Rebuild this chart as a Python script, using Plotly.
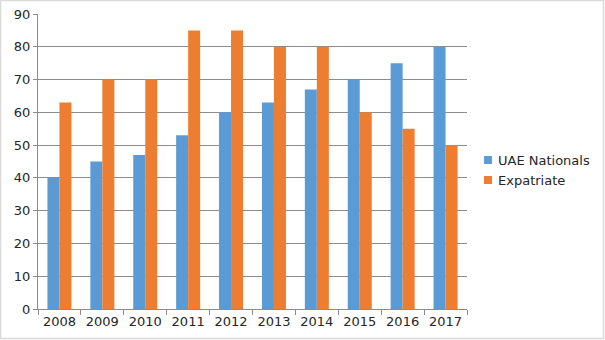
import plotly.graph_objects as go

years = ["2008", "2009", "2010", "2011", "2012", "2013", "2014", "2015", "2016", "2017"]
uae_nationals = [40, 45, 47, 53, 60, 63, 67, 70, 75, 80]
expatriate = [63, 70, 70, 85, 85, 80, 80, 60, 55, 50]
series = [("UAE Nationals", uae_nationals, "#5b9bd5"), ("Expatriate", expatriate, "#ed7d31")]

fig = go.Figure()
for name, vals, col in series:
    fig.add_trace(go.Bar(x=years, y=vals, name=name, marker=dict(color=col, line=dict(width=0))))

W, H = 605, 340
l, r, t, b = 38, 138, 14, 31
pw, ph = W - l - r, H - t - b

def px_x(x):
    return (x - l) / pw

def px_y(y):
    return (H - b - y) / ph

fig.update_layout(
    width=W, height=H,
    margin=dict(l=l, r=r, t=t, b=b, pad=0, autoexpand=False),
    paper_bgcolor="white", plot_bgcolor="white",
    barmode="group", bargap=0.44, bargroupgap=0,
    font=dict(family="DejaVu Sans", size=13, color="#262626"),
    showlegend=False,
    xaxis=dict(type="category", showgrid=False, showline=True, linecolor="#8c8c8c", linewidth=1,
               ticks="outside", tickson="boundaries", ticklen=5, tickcolor="#8c8c8c",
               tickfont=dict(size=13), range=[-0.5, 9.5]),
    yaxis=dict(range=[0, 90], dtick=10, showgrid=True, gridcolor="#8c8c8c", gridwidth=1,
               showline=True, linecolor="#8c8c8c", linewidth=1, ticks="outside", ticklen=4,
               tickcolor="#8c8c8c", tickfont=dict(size=13), zeroline=False, fixedrange=True),
)

# custom legend
for i, (name, vals, col) in enumerate(series):
    cy = 160 + 20 * i
    fig.add_shape(type="rect", xref="paper", yref="paper",
                  x0=px_x(484), x1=px_x(492), y0=px_y(cy + 4), y1=px_y(cy - 4),
                  fillcolor=col, line=dict(width=0))
    fig.add_annotation(xref="paper", yref="paper", x=px_x(496), y=px_y(cy),
                       xanchor="left", yanchor="middle", text=name, showarrow=False,
                       font=dict(size=13, color="#262626"))

# outer light frame
fig.add_shape(type="rect", xref="paper", yref="paper",
              x0=px_x(0.5), x1=px_x(W - 1.5), y0=px_y(H - 1.5), y1=px_y(0.5),
              line=dict(color="#d9d9d9", width=1.5), layer="below")

fig.write_html("out.html")
